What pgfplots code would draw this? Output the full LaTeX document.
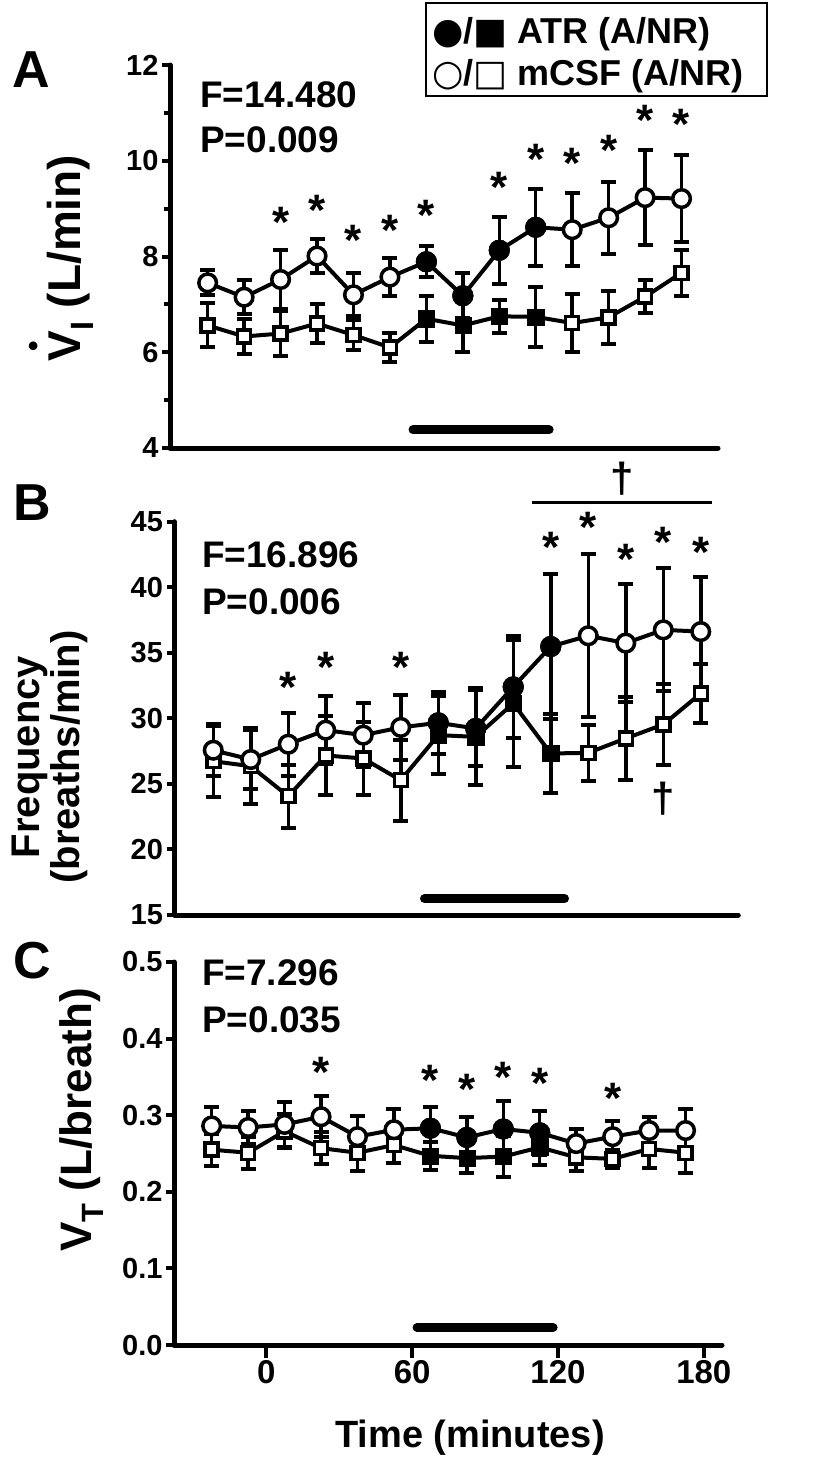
\documentclass[border=0pt]{standalone}
\usepackage{fontspec}
\setmainfont{Liberation Sans}
\newfontfamily\symfont{DejaVu Sans}
\usepackage{pgfplots}
\usepackage{pgfplotstable}
\pgfplotsset{compat=1.18}
\newcommand\fs[1]{\fontsize{#1}{#1}\selectfont\bfseries}

\pgfplotstableread{
t c ec s es
-22.5 7.45 0.26 6.56 0.46
-7.5 7.15 0.35 6.33 0.37
7.5 7.52 0.61 6.39 0.47
22.5 8.01 0.36 6.60 0.41
37.5 7.20 0.45 6.36 0.32
52.5 7.57 0.39 6.10 0.30
67.5 7.89 0.32 6.70 0.48
82.5 7.18 0.47 6.56 0.55
97.5 8.13 0.70 6.75 0.34
112.5 8.61 0.80 6.74 0.63
127.5 8.56 0.76 6.61 0.60
142.5 8.81 0.75 6.73 0.55
157.5 9.23 0.99 7.16 0.34
172.5 9.21 0.91 7.66 0.48
}\dataA

\pgfplotstableread{
t c ec s es
-22.5 27.57 2.0 26.73 2.72
-7.5 26.86 2.24 26.35 2.92
7.5 28.03 2.39 24.06 2.42
22.5 29.10 2.6 27.17 2.98
37.5 28.72 2.42 26.94 2.8
52.5 29.31 2.46 25.28 3.1
67.5 29.66 2.36 28.72 3.0
82.5 29.23 2.9 28.59 3.7
97.5 32.4 3.9 31.14 4.84
112.5 35.48 5.5 27.32 3.0
127.5 36.3 6.2 27.37 2.14
142.5 35.74 4.5 28.47 3.19
157.5 36.75 4.7 29.53 3.1
172.5 36.62 4.2 31.9 2.24
}\dataB

\pgfplotstableread{
t c ec s es
-22.5 0.286 0.025 0.255 0.021
-7.5 0.284 0.022 0.251 0.021
7.5 0.288 0.029 0.279 0.022
22.5 0.298 0.027 0.257 0.021
37.5 0.272 0.027 0.251 0.024
52.5 0.281 0.027 0.261 0.024
67.5 0.283 0.028 0.247 0.018
82.5 0.271 0.027 0.244 0.020
97.5 0.282 0.036 0.246 0.027
112.5 0.277 0.029 0.258 0.023
127.5 0.263 0.019 0.245 0.018
142.5 0.272 0.021 0.243 0.012
157.5 0.280 0.018 0.256 0.025
172.5 0.280 0.028 0.251 0.026
}\dataC

\pgfplotsset{
  panel/.style={
    scale only axis, axis lines*=left, xmin=-38, xmax=187.5, clip=false,
    axis line style={line width=5pt, line cap=round},
    tick align=outside, major tick length=8pt, minor tick length=6pt,
    tick style={line width=4pt, black},
    xtick=\empty,
    yticklabel style={font=\fs{29}},
  },
  ebars/.style={error bars/.cd, y dir=both, y explicit,
    error bar style={line width=3.5pt, black},
    error mark=-,
    error mark options={rotate=90, line width=4pt, mark size=7.5pt, black}},
  circ/.style={black, mark=*, mark size=8.8pt, mark options={fill=white, line width=3.5pt}, line width=4pt},
  sqr/.style={black, mark=square*, mark size=6.5pt, mark options={fill=white, line width=3.5pt}, line width=4pt},
  fcirc/.style={black, only marks, mark=*, mark size=10.4pt, restrict x to domain=60:120},
  fsqr/.style={black, only marks, mark=square*, mark size=8.1pt, restrict x to domain=60:120},
  hbar/.style={black, line width=9pt, line cap=round},
}
\tikzset{
  st/.style={font=\fs{44}, inner sep=0pt, anchor=north, yshift=8pt},
  dg/.style={font=\fs{42}, inner sep=0pt, anchor=center},
}

\begin{document}
\begin{tikzpicture}[x=1pt,y=1pt]
\useasboundingbox (0,0) rectangle (814,-1471);

% ---------- Panel A ----------
\begin{axis}[panel, at={(170pt,-448pt)}, anchor=south west, width=548pt, height=383pt,
  ymin=4, ymax=12, ytick={4,6,8,10,12}, yticklabels={4,6,8,10,12}, minor ytick={5,7,9,11}]
\addplot[hbar] coordinates {(62,4.38) (118,4.38)};
\addplot[sqr, ebars] table[x=t, y=s, y error=es] {\dataA};
\addplot[circ, ebars] table[x=t, y=c, y error=ec] {\dataA};
\addplot[fsqr] table[x=t, y=s] {\dataA};
\addplot[fcirc] table[x=t, y=c] {\dataA};
\node[st] at (axis cs:7.5,8.86) {*};
\node[st] at (axis cs:22.5,9.11) {*};
\node[st] at (axis cs:37.5,8.49) {*};
\node[st] at (axis cs:52.5,8.70) {*};
\node[st] at (axis cs:67.5,9.01) {*};
\node[st] at (axis cs:97.5,9.59) {*};
\node[st] at (axis cs:112.5,10.18) {*};
\node[st] at (axis cs:127.5,10.10) {*};
\node[st] at (axis cs:142.5,10.37) {*};
\node[st] at (axis cs:157.5,10.99) {*};
\node[st] at (axis cs:172.5,10.91) {*};
\end{axis}

% ---------- Panel B ----------
\begin{axis}[panel, at={(174.5pt,-915pt)}, anchor=south west, width=563.75pt, height=393.3pt,
  ymin=15, ymax=45, ytick={15,20,25,30,35,40,45}, yticklabels={15,20,25,30,35,40,45}]
\addplot[hbar] coordinates {(62,16.25) (118,16.25)};
\addplot[black, line width=3pt] coordinates {(105,46.5) (177,46.5)};
\addplot[sqr, ebars] table[x=t, y=s, y error=es] {\dataB};
\addplot[circ, ebars] table[x=t, y=c, y error=ec] {\dataB};
\addplot[fsqr] table[x=t, y=s] {\dataB};
\addplot[fcirc] table[x=t, y=c] {\dataB};
\node[st] at (axis cs:7.5,32.92) {*};
\node[st] at (axis cs:22.5,34.44) {*};
\node[st] at (axis cs:52.5,34.44) {*};
\node[st] at (axis cs:112.5,43.60) {*};
\node[st] at (axis cs:127.5,45.13) {*};
\node[st] at (axis cs:142.5,42.71) {*};
\node[st] at (axis cs:157.5,43.98) {*};
\node[st] at (axis cs:172.5,43.22) {*};
\node[dg] at (axis cs:141,48.3) {†};
\node[dg] at (axis cs:157.5,23.9) {†};
\end{axis}

% ---------- Panel C ----------
\begin{axis}[panel, at={(174pt,-1345pt)}, anchor=south west, width=548pt, height=383pt,
  ymin=0, ymax=0.5, ytick={0,0.1,0.2,0.3,0.4,0.5}, yticklabels={0.0,0.1,0.2,0.3,0.4,0.5},
  xtick={0,60,120,180}, xticklabels={0,60,120,180},
  xtick style={/pgfplots/major tick length=13pt},
  xticklabel style={font=\fs{33}, yshift=-4pt}]
\addplot[hbar] coordinates {(62,0.023) (118,0.023)};
\addplot[sqr, ebars] table[x=t, y=s, y error=es] {\dataC};
\addplot[circ, ebars] table[x=t, y=c, y error=ec] {\dataC};
\addplot[fsqr] table[x=t, y=s] {\dataC};
\addplot[fcirc] table[x=t, y=c] {\dataC};
\node[st] at (axis cs:22.5,0.366) {*};
\node[st] at (axis cs:67.5,0.355) {*};
\node[st] at (axis cs:82.5,0.343) {*};
\node[st] at (axis cs:97.5,0.359) {*};
\node[st] at (axis cs:112.5,0.351) {*};
\node[st] at (axis cs:142.5,0.332) {*};
\end{axis}

% ---------- texts ----------
\node[anchor=base west, font=\fs{52}, inner sep=0pt] at (12,-88) {A};
\node[anchor=base west, font=\fs{52}, inner sep=0pt] at (13,-520) {B};
\node[anchor=base west, font=\fs{52}, inner sep=0pt] at (13,-978) {C};

\node[anchor=base west, font=\fs{37}, inner sep=0pt] at (200,-108) {F=14.480};
\node[anchor=base west, font=\fs{37}, inner sep=0pt] at (200,-153) {P=0.009};
\node[anchor=base west, font=\fs{37}, inner sep=0pt] at (202,-567) {F=16.896};
\node[anchor=base west, font=\fs{37}, inner sep=0pt] at (202,-614) {P=0.006};
\node[anchor=base west, font=\fs{37}, inner sep=0pt] at (202,-985) {F=7.296};
\node[anchor=base west, font=\fs{37}, inner sep=0pt] at (202,-1032) {P=0.035};

\node[rotate=90, anchor=base, font=\fs{46}, inner sep=0pt] at (80,-258)
  {\ooalign{V\cr\hidewidth\raisebox{37pt}{\fontsize{30}{30}\selectfont\textbullet}\hidewidth\cr}\textsubscript{I} (L/min)};
\node[rotate=90, anchor=center, align=center, font=\fs{40}, inner sep=0pt] at (50,-757)
  {\fontsize{40}{41}\selectfont\bfseries Frequency\\(breaths/min)};
\node[rotate=90, anchor=base, font=\fs{44}, inner sep=0pt] at (91,-1120)
  {V\textsubscript{T} (L/breath)};

\node[anchor=base, font=\fs{38}, inner sep=0pt] at (470,-1447) {Time (minutes)};

% legend
\draw[line width=2.5pt] (426,-3) rectangle (767,-96);
\node[anchor=base west, font=\fs{36}, inner sep=0pt] at (432,-44)
  {{\symfont ●}/{\symfont ■} ATR (A/NR)};
\node[anchor=base west, font=\fs{36}, inner sep=0pt] at (432,-86)
  {{\symfont ○}/{\symfont □} mCSF (A/NR)};
\end{tikzpicture}
\end{document}
